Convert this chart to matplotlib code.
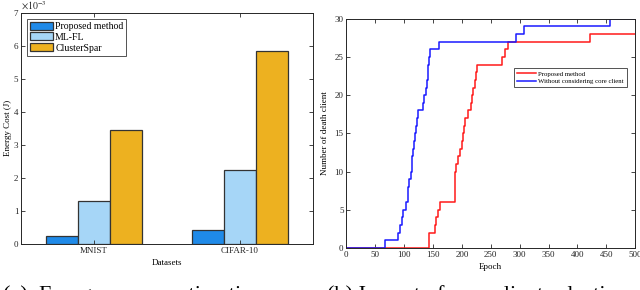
import numpy as np
import matplotlib
matplotlib.use('Agg')
from matplotlib import pyplot as plt

plt.rcParams['font.family'] = ['Liberation Serif', 'DejaVu Serif']
plt.rcParams['mathtext.fontset'] = 'stix'

# Left panel: energy cost per dataset (x 1e-3 J)
datasets = ['MNIST', 'CIFAR-10']
methods = ['Proposed method', 'ML-FL', 'ClusterSpar']
energy_proposed = [0.25e-3, 0.43e-3]
energy_mlfl = [1.31e-3, 2.24e-3]
energy_cluster = [3.44e-3, 5.85e-3]
bar_colors = ['#1f8ae8', '#a6d6f7', '#edb120']

# Right panel: death clients vs epoch (step change points)
epoch_prop = [0, 144, 153, 155, 158, 163, 188, 190, 193, 197, 200, 202, 203, 205,
              211, 215, 218, 220, 222, 224, 227, 270, 275, 280, 422, 500]
death_prop = [0, 2, 3, 4, 5, 6, 10, 11, 12, 13, 14, 15, 16, 17,
              18, 19, 20, 21, 22, 23, 24, 25, 26, 27, 28, 28]
epoch_nocore = [0, 67, 90, 93, 96, 99, 104, 106, 108, 112, 113, 114, 116, 118, 119,
                120, 122, 125, 132, 134, 138, 139, 141, 142, 144, 145, 160, 293,
                308, 456, 500]
death_nocore = [0, 1, 2, 3, 4, 5, 6, 8, 9, 10, 11, 12, 13, 14, 15,
                16, 17, 18, 19, 20, 21, 22, 23, 24, 25, 26, 27, 28,
                29, 30, 30]

fig = plt.figure(figsize=(6.4, 2.9), dpi=100)

# matlab-like box with inward ticks
def matlab_box(ax):
    ax.tick_params(direction='in', top=True, right=True, labelsize=6.5,
                   length=3, width=0.6, colors='#262626', pad=2)
    for s in ax.spines.values():
        s.set_linewidth(0.7)
        s.set_color('#262626')

# ---- left: bar chart
ax1 = fig.add_axes([0.033, 0.159, 0.456, 0.797])
x = np.arange(1, len(datasets) + 1)
w = 0.22
series = [energy_proposed, energy_mlfl, energy_cluster]
for i, vals in enumerate(series):
    ax1.bar(x + (i - 1) * w, vals, width=w, color=bar_colors[i],
            edgecolor='#333333', linewidth=0.9, label=methods[i])
ax1.set_xlim(0.5, 2.5)
ax1.set_ylim(0, 7e-3)
ax1.set_xticks(x)
ax1.set_xticklabels(datasets)
ax1.set_yticks(np.arange(0, 8) * 1e-3)
ax1.set_yticklabels([str(v) for v in range(8)])
ax1.text(0.0, 1.005, r'$\times10^{-3}$', transform=ax1.transAxes,
         fontsize=7, color='#262626', va='bottom', ha='left')
ax1.set_xlabel('Datasets', fontsize=6.5, labelpad=3)
ax1.set_ylabel('Energy Cost (J)', fontsize=6.5, labelpad=1)
matlab_box(ax1)
leg = ax1.legend(loc='upper left', fontsize=7, frameon=True, fancybox=False,
                 handlelength=2.4, handleheight=0.9, handletextpad=0.2,
                 borderpad=0.3, labelspacing=0.15, borderaxespad=0.6)
leg.get_frame().set_edgecolor('#262626')
leg.get_frame().set_linewidth(0.7)

# ---- right: step curves
ax2 = fig.add_axes([0.541, 0.145, 0.4516, 0.790])
ax2.plot(epoch_prop, death_prop, drawstyle='steps-post', color='#ff1a1a',
         linewidth=1.1, label='Proposed method')
ax2.plot(epoch_nocore, death_nocore, drawstyle='steps-post', color='#1a1aff',
         linewidth=1.1, label='Without considering core client')
ax2.set_xlim(0, 500)
ax2.set_ylim(0, 30)
ax2.set_xticks(np.arange(0, 501, 50))
ax2.set_yticks(np.arange(0, 31, 5))
ax2.set_xlabel('Epoch', fontsize=6.5, labelpad=3)
ax2.set_ylabel('Number of death client', fontsize=6.5, labelpad=4)
matlab_box(ax2)
leg2 = ax2.legend(loc='upper right', bbox_to_anchor=(0.972, 0.786), fontsize=4.9,
                  frameon=True, fancybox=False, handlelength=2.8,
                  handletextpad=0.4, borderpad=0.45, labelspacing=0.25,
                  borderaxespad=0)
leg2.get_frame().set_edgecolor('#262626')
leg2.get_frame().set_linewidth(0.7)

# sub-captions, cut off at the bottom edge like the source
fig.text(0.005, -0.053, '(a)  Energy consumption ti', fontsize=16, ha='left', va='bottom')
fig.text(0.511, -0.053, '(b) Impact of core client selecti', fontsize=16, ha='left', va='bottom')

fig.savefig('out.png', dpi=100)
